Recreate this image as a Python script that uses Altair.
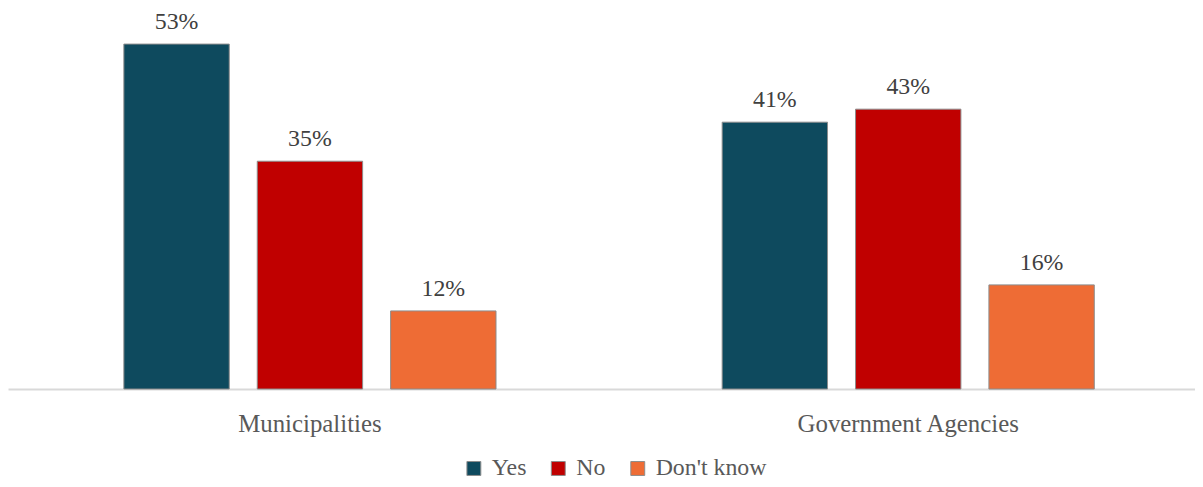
import altair as alt
import pandas as pd

categories = ["Municipalities", "Government Agencies"]
series = ["Yes", "No", "Don't know"]
yes_vals = [0.53, 0.41]
no_vals = [0.35, 0.43]
dk_vals = [0.12, 0.16]
colors = ["#0E4A5E", "#C00000", "#EE6C35"]

rows = []
for i, c in enumerate(categories):
    for s, vals in zip(series, [yes_vals, no_vals, dk_vals]):
        rows.append({"category": c, "series": s, "value": vals[i]})
df = pd.DataFrame(rows)

FONT = "Liberation Serif"

base = alt.Chart(df).encode(
    x=alt.X("category:N", sort=categories, title=None,
            scale=alt.Scale(paddingInner=0.378, paddingOuter=0.181, align=0.535),
            axis=alt.Axis(labelAngle=0, ticks=False, domainColor="#D9D9D9", domainWidth=2,
                          labelFont=FONT, labelFontSize=25, labelColor="#595959",
                          labelPadding=23, labelLimit=0)),
    xOffset=alt.XOffset("series:N", sort=series,
                        scale=alt.Scale(paddingInner=0.21, paddingOuter=0)),
    y=alt.Y("value:Q", scale=alt.Scale(domain=[0, 0.583], nice=False), axis=None),
)

bars = base.mark_bar(stroke="#8C8C8C", strokeWidth=1).encode(
    color=alt.Color("series:N", sort=series, title=None,
                    scale=alt.Scale(domain=series, range=colors),
                    legend=alt.Legend(orient="none", legendX=457, legendY=450,
                                      direction="horizontal",
                                      symbolType="square", symbolSize=196,
                                      symbolStrokeColor="#8C8C8C", symbolStrokeWidth=1,
                                      labelFont=FONT, labelFontSize=24, labelColor="#595959",
                                      columnPadding=20, labelOffset=6))
)

labels = base.mark_text(dy=-10, baseline="bottom", font=FONT, fontSize=24, color="#404040").encode(
    text=alt.Text("value:Q", format=".0%")
)

chart = alt.layer(bars, labels).properties(
    width=1195, height=382, padding=0
).configure_view(stroke=None)

chart.save("out.html", embed_options={"renderer": "svg", "actions": False})
